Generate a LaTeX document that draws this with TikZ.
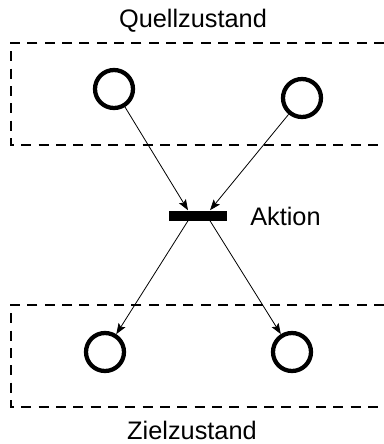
\documentclass[tikz,border=0pt]{standalone}
\usepackage{fontspec}
\setmainfont{Liberation Sans}
\usetikzlibrary{arrows.meta}
\begin{document}
\begin{tikzpicture}[x=0.75pt,y=-0.75pt,
  place/.style={circle,draw,line width=3.2pt,minimum size=28.5pt,inner sep=0pt},
  trans/.style={rectangle,fill=black,minimum width=43.5pt,minimum height=7.5pt,inner sep=0pt},
  label/.style={font=\fontsize{19}{23}\selectfont,inner sep=0pt},
  region/.style={line width=1.7pt,dash pattern=on 7.5pt off 5.5pt},
  arc/.style={line width=0.6pt,-{Stealth[length=8pt,width=6pt,inset=1.5pt]}}]
\useasboundingbox (0,0) rectangle (384,444);
\draw[region] (384,43) -- (11,43) -- (11,145) -- (384,145);
\draw[region] (384,305) -- (11,305) -- (11,407) -- (384,407);
\node[label] (q) at (193,21) {Quellzustand};
\node[label] (z) at (192,430) {Zielzustand};
\node[place] (tl) at (114,89) {};
\node[place] (tr) at (302,98) {};
\node[place] (bl) at (105,352) {};
\node[place] (br) at (292,352) {};
\node[trans] (bar) at (198,215.5) {};
\node[label,anchor=west] (akt) at (250,216) {Aktion};
\draw[arc] (tl) -- ([xshift=-7.5pt]bar.north);
\draw[arc] (tr) -- ([xshift=9pt]bar.north);
\draw[arc] ([xshift=-7.5pt]bar.south) -- (bl);
\draw[arc] ([xshift=9pt]bar.south) -- (br);
\end{tikzpicture}
\end{document}
